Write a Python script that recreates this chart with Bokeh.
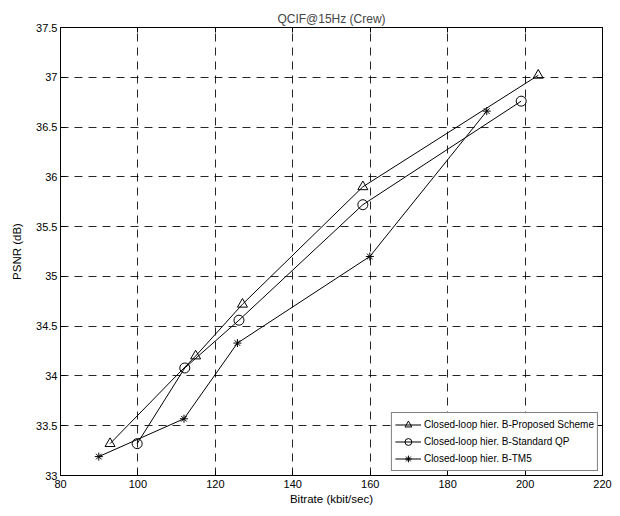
from bokeh.plotting import figure
from bokeh.models import FixedTicker, LinearAxis, Legend, LegendItem, Range1d
from bokeh.embed import file_html
from bokeh.resources import INLINE

# Rate-distortion results, QCIF@15Hz (Crew)
proposed_rate = [92.8, 114.9, 127.0, 158.1, 203.4]
proposed_psnr = [33.32, 34.20, 34.72, 35.90, 37.02]

standard_rate = [99.8, 112.1, 126.1, 158.1, 199.0]
standard_psnr = [33.32, 34.08, 34.56, 35.72, 36.76]

tm5_rate = [89.9, 111.9, 125.7, 159.9, 190.1]
tm5_psnr = [33.19, 33.57, 34.33, 35.20, 36.66]

x_ticks = [80, 100, 120, 140, 160, 180, 200, 220]
y_ticks = [33, 33.5, 34, 34.5, 35, 35.5, 36, 36.5, 37, 37.5]
y_tick_labels = ["33", "33.5", "34", "34.5", "35", "35.5", "36", "36.5", "37", "37.5"]

FONT = "Liberation Sans"

p = figure(width=620, height=516, output_backend="svg", toolbar_location=None,
           x_range=Range1d(80, 220), y_range=Range1d(33, 37.5),
           min_border_left=60, min_border_right=18, min_border_top=27, min_border_bottom=41,
           title="QCIF@15Hz (Crew)")
p.background_fill_color = "white"
p.border_fill_color = "white"
p.outline_line_color = "black"
p.outline_line_width = 1

p.title.align = "center"
p.title.text_font = FONT
p.title.text_font_size = "12px"
p.title.text_font_style = "normal"
p.title.standoff = 4

for ax in (p.xaxis[0], p.yaxis[0]):
    ax.axis_line_color = "black"
    ax.major_tick_in = 5
    ax.major_tick_out = 0
    ax.minor_tick_in = 0
    ax.minor_tick_out = 0
    ax.major_label_text_font = FONT
    ax.major_label_text_font_size = "11px"
    ax.major_label_text_color = "black"
    ax.axis_label_text_font = FONT
    ax.axis_label_text_font_size = "11.5px"
    ax.axis_label_text_font_style = "normal"
    ax.axis_label_text_color = "black"

p.xaxis.ticker = FixedTicker(ticks=x_ticks)
p.yaxis.ticker = FixedTicker(ticks=y_ticks)
p.yaxis.major_label_overrides = {t: s for t, s in zip(y_ticks, y_tick_labels)}
p.xaxis.axis_label = "Bitrate (kbit/sec)"
p.yaxis.axis_label = "PSNR (dB)"
p.xaxis.major_label_standoff = 4
p.yaxis.major_label_standoff = 3
p.xaxis.axis_label_standoff = 2
p.yaxis.axis_label_standoff = 10

# tick marks on the top and right edges, without labels
top = LinearAxis(ticker=FixedTicker(ticks=x_ticks), major_tick_in=5, major_tick_out=0,
                 minor_tick_in=0, minor_tick_out=0, axis_line_color="black",
                 major_label_overrides={t: "" for t in x_ticks}, major_label_standoff=0)
right = LinearAxis(ticker=FixedTicker(ticks=y_ticks), major_tick_in=5, major_tick_out=0,
                   minor_tick_in=0, minor_tick_out=0, axis_line_color="black",
                   major_label_overrides={t: "" for t in y_ticks}, major_label_standoff=0)
p.add_layout(top, "above")
p.add_layout(right, "right")

for g in (p.xgrid[0], p.ygrid[0]):
    g.grid_line_color = "black"
    g.grid_line_alpha = 0.85
    g.grid_line_dash = "8 6"
    g.grid_line_width = 1

line_kw = dict(line_color="black", line_width=1)
mark_kw = dict(line_color="black", line_width=1, fill_alpha=0, size=10)

l1 = p.line(proposed_rate, proposed_psnr, **line_kw)
m1 = p.scatter(proposed_rate, proposed_psnr, marker="triangle", **mark_kw)
l2 = p.line(standard_rate, standard_psnr, **line_kw)
m2 = p.scatter(standard_rate, standard_psnr, marker="circle", **mark_kw)
l3 = p.line(tm5_rate, tm5_psnr, **line_kw)
m3 = p.scatter(tm5_rate, tm5_psnr, marker="asterisk", **dict(mark_kw, size=8))

legend = Legend(items=[
    LegendItem(label="Closed-loop hier. B-Proposed Scheme", renderers=[l1, m1]),
    LegendItem(label="Closed-loop hier. B-Standard QP", renderers=[l2, m2]),
    LegendItem(label="Closed-loop hier. B-TM5", renderers=[l3, m3]),
], location="bottom_right")
legend.label_text_font = FONT
legend.label_text_font_size = "10px"
legend.label_text_color = "black"
legend.border_line_color = "black"
legend.border_line_width = 1
legend.background_fill_alpha = 1
legend.margin = 4
legend.padding = 3
legend.spacing = 0
legend.glyph_width = 26
legend.glyph_height = 17
legend.label_height = 17
legend.label_standoff = 3
p.add_layout(legend, "center")

open("out.html", "w").write(file_html(p, INLINE))
